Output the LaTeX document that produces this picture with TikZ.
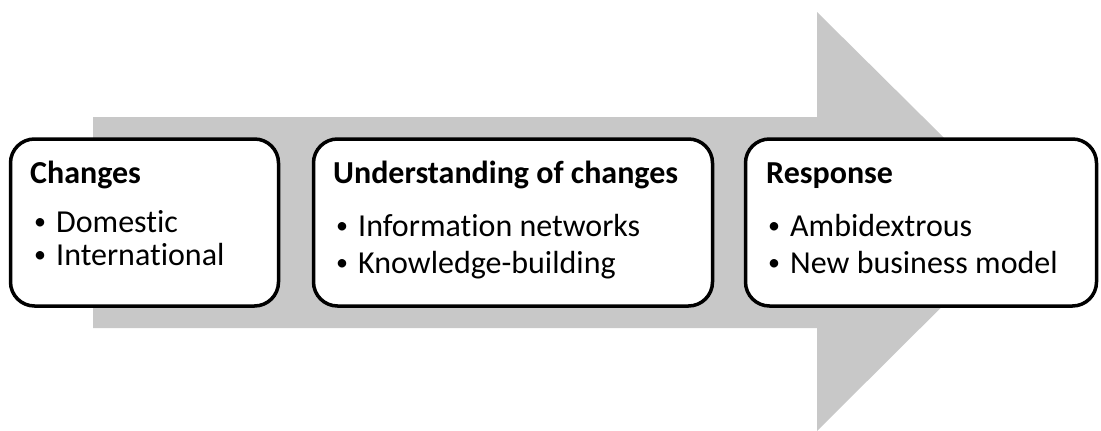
\documentclass[tikz,border=0pt]{standalone}
\usepackage{fontspec}
\setmainfont{Carlito}[Ligatures=NoCommon]
\definecolor{arrowgray}{RGB}{200,200,200}
\newcommand{\bulitem}[1]{\makebox[23pt][l]{\hspace{1pt}\raisebox{2.5pt}{\fontsize{24}{28}\selectfont•}}#1}
\begin{document}
\begin{tikzpicture}[x=1pt,y=-1pt,
  stagebox/.style={draw=black,line width=3.5pt,rounded corners=24pt,fill=white,inner sep=0pt},
  title/.style={anchor=base west,inner sep=0pt,font=\fontsize{32}{36}\selectfont\bfseries},
  item/.style={anchor=base west,inner sep=0pt,font=\fontsize{32}{36}\selectfont}]
\useasboundingbox (0,0) rectangle (1101,431);
\fill[arrowgray] (93,117) -- (817,117) -- (817,12) -- (1028,221) -- (817,431) -- (817,328) -- (93,328) -- cycle;
\node[stagebox,minimum width=268pt,minimum height=167pt] (b1) at (144.5,222.5) {};
\node[stagebox,minimum width=399pt,minimum height=167pt] (b2) at (513,222.5) {};
\node[stagebox,minimum width=351pt,minimum height=167pt] (b3) at (921,222.5) {};
\node[title] (t1) at (30,183) {Changes};
\node[item] (i11) at (33,232) {\bulitem{Domestic}};
\node[item] (i12) at (33,265) {\bulitem{International}};
\node[title] (t2) at (333,183) {Understanding of changes};
\node[item] (i21) at (335,236) {\bulitem{Information networks}};
\node[item] (i22) at (335,273) {\bulitem{Knowledge-building}};
\node[title] (t3) at (766,183) {Response};
\node[item] (i31) at (767,236) {\bulitem{Ambidextrous}};
\node[item] (i32) at (767,273) {\bulitem{New business model}};
\end{tikzpicture}
\end{document}
